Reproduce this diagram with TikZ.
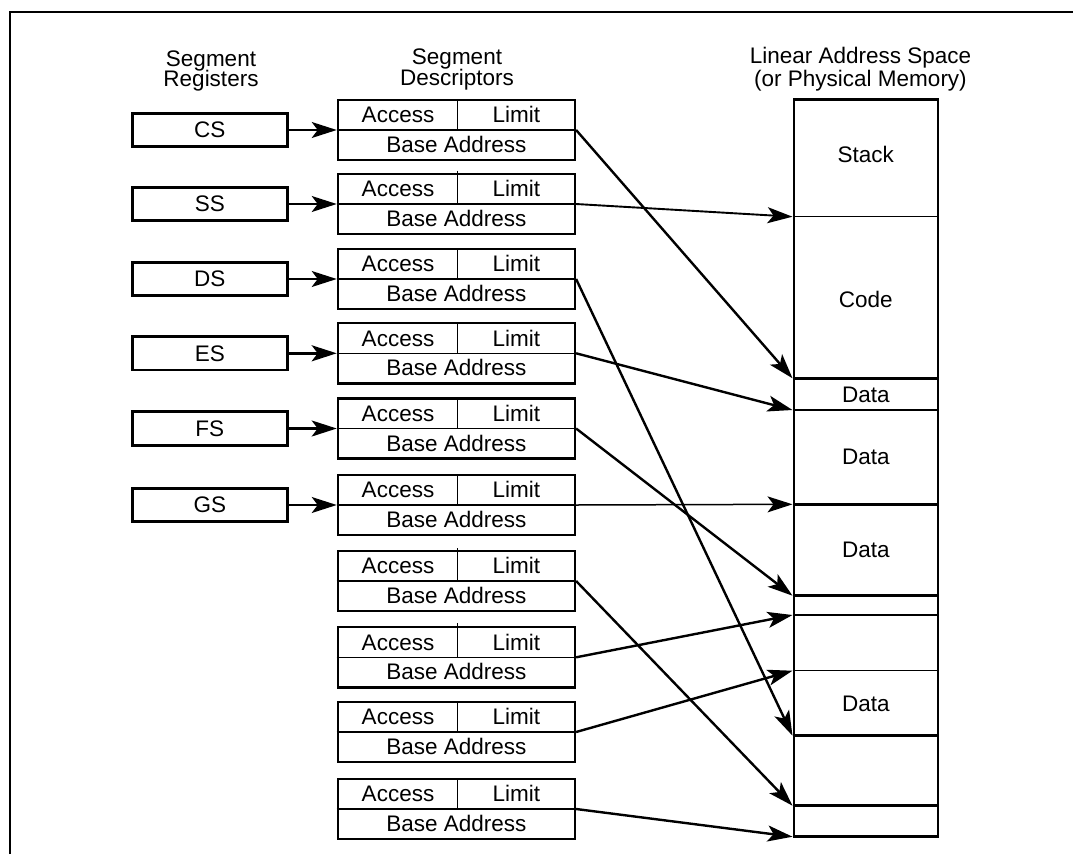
\documentclass[tikz,border=0pt]{standalone}
\usepackage{fontspec}
\setmainfont{Liberation Sans}
\usetikzlibrary{arrows.meta}
\tikzset{
  lbl/.style={inner sep=0pt, text height=15.5pt, text depth=0pt, font=\fontsize{22.5}{24}\selectfont},
  ttl/.style={inner sep=0pt, anchor=base, font=\fontsize{22.5}{24}\selectfont},
  reg/.style={draw, line width=2.8pt, minimum width=155pt, minimum height=33.5pt, inner sep=0pt,
              text height=15.5pt, text depth=0pt, font=\fontsize{22.5}{24}\selectfont},
  desc/.style={draw, line width=2.4pt, minimum width=237pt, minimum height=60.3pt, inner sep=0pt},
  divline/.style={line width=1.5pt},
  thickbound/.style={line width=2.6pt},
  thinbound/.style={line width=1.4pt},
  tipstyle/.style={-{Stealth[length=25pt,width=16pt,inset=6pt]}},
  conn/.style={line width=2.4pt, tipstyle},
  connthin/.style={line width=1.5pt, tipstyle},
  connmid/.style={line width=1.9pt, tipstyle},
}
\newcommand\mkdesc[2]{%
  \node[desc] (#1) at (456.4,#2) {};
  \draw[divline] (#1.west) -- (#1.east);
  \draw[divline] (457.7,{#2-30.15}) -- (457.7,#2);
  \node[lbl] (#1a) at (398,{#2-14.8}) {Access};
  \node[lbl] (#1l) at (516.4,{#2-14.8}) {Limit};
  \node[lbl] (#1b) at (456.4,{#2+14.8}) {Base Address};
}
\begin{document}
\begin{tikzpicture}[x=1pt,y=-1pt]
\useasboundingbox (0,0) rectangle (1073,854);
\fill[white] (0,0) rectangle (1073,854);
% frame
\draw[line width=2pt] (9,11.7) -- (1073,11.7);
\draw[line width=2.8pt] (10,854) -- (10,11.7);

% titles
\node[ttl] (tr1) at (211,66) {Segment};
\node[ttl] (tr2) at (211,86.5) {Registers};
\node[ttl] (td1) at (457,64.5) {Segment};
\node[ttl] (td2) at (457,85.5) {Descriptors};
\node[ttl] (tl1) at (860.5,63.5) {Linear Address Space};
\node[ttl] (tl2) at (860.5,86.5) {(or Physical Memory)};

% registers
\node[reg] (CS) at (209.8,130) {CS};
\node[reg] (SS) at (209.8,204) {SS};
\node[reg] (DS) at (209.8,279) {DS};
\node[reg] (ES) at (209.8,353.3) {ES};
\node[reg] (FS) at (209.8,428.5) {FS};
\node[reg] (GS) at (209.8,505) {GS};

% descriptors
\mkdesc{d1}{130}
\mkdesc{d2}{204}
\mkdesc{d3}{279}
\mkdesc{d4}{353.3}
\mkdesc{d5}{428.5}
\mkdesc{d6}{505}
\mkdesc{d7}{581}
\mkdesc{d8}{657.3}
\mkdesc{d9}{732}
\mkdesc{d10}{809}
\draw[divline] (457.7,170.7) -- (457.7,174);
\draw[divline] (457.7,548) -- (457.7,551);
\draw[divline] (457.7,623.3) -- (457.7,627);

% memory
\draw[line width=1.8pt] (937.7,99.3) -- (937.7,836.7);
\draw[thinbound] (794,216.7) -- (937.7,216.7);
\draw[thickbound] (794,378.3) -- (937.7,378.3);
\draw[thickbound] (794,410) -- (937.7,410);
\draw[thickbound] (794,504.3) -- (937.7,504.3);
\draw[thickbound] (794,595.7) -- (937.7,595.7);
\draw[thinbound] (794,615) -- (937.7,615);
\draw[thinbound] (794,670.7) -- (937.7,670.7);
\draw[thickbound] (794,735.7) -- (937.7,735.7);
\draw[thickbound] (794,805.7) -- (937.7,805.7);
\draw[line width=2.8pt] (794,99.3) -- (938.5,99.3);
\draw[line width=2.8pt] (794,836.7) -- (938.5,836.7);
\draw[line width=2.8pt] (794,98) -- (794,838);

\node[lbl] (mstack) at (865.8,155) {Stack};
\node[lbl] (mcode) at (865.8,300) {Code};
\node[lbl] (mdata1) at (865.8,395) {Data};
\node[lbl] (mdata2) at (865.8,456.7) {Data};
\node[lbl] (mdata3) at (865.8,550) {Data};
\node[lbl] (mdata4) at (865.8,703.3) {Data};

\coordinate (b1) at (792.5,216.7);
\coordinate (b2) at (792.5,378.3);
\coordinate (b3) at (792.5,410);
\coordinate (b4) at (792.5,504.3);
\coordinate (b5) at (792.5,595.7);
\coordinate (b6) at (792.5,615);
\coordinate (b7) at (792.5,670.7);
\coordinate (b8) at (792.5,735.7);
\coordinate (b9) at (792.5,805.7);
\coordinate (b10) at (792.5,836.7);

% register -> descriptor
\draw[connthin] (CS.east) -- (d1.west);
\draw[connthin] (SS.east) -- (d2.west);
\draw[connthin] (DS.east) -- (d3.west);
\draw[conn] (ES.east) -- (d4.west);
\draw[conn] (FS.east) -- (d5.west);
\draw[connthin] (GS.east) -- (d6.west);

% descriptor -> memory
\draw[conn] (d1.east) -- (b2);
\draw[connmid] (d2.east) -- (b1);
\draw[conn] (d3.east) -- (b8);
\draw[conn] (d4.east) -- (b3);
\draw[conn] (d5.east) -- (b5);
\draw[connthin] (d6.east) -- (b4);
\draw[conn] (d7.east) -- (b9);
\draw[conn] (d8.east) -- (b6);
\draw[conn] (d9.east) -- (b7);
\draw[conn] (d10.east) -- (b10);
\end{tikzpicture}
\end{document}
